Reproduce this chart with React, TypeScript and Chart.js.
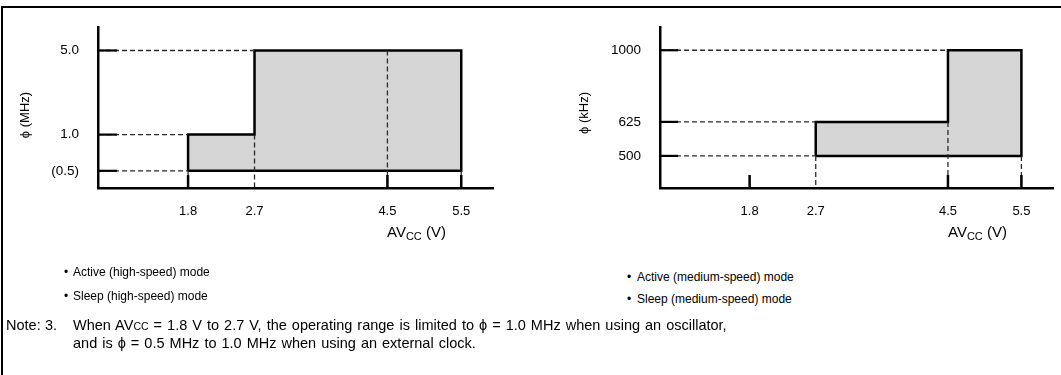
import React, { useEffect, useRef } from "react";
import { Chart, registerables } from "chart.js";

Chart.register(...registerables);

// ---- shared voltage axis ----
const voltageTicks = [1.8, 2.7, 4.5, 5.5];
const voltageMin = 0.58;
const voltageMax = 5.93;

// ---- high-speed chart (MHz) ----
const hsVoltage = [1.8, 2.7, 5.5];
const hsFreqMax = [1.0, 5.0];
const hsFreqMin = 0.5;
const hsFreqTicks = [0.5, 1.0, 5.0];
const hsFreqLabels = ["(0.5)", "1.0", "5.0"];
const hsTickMarks = [1.8, 4.5, 5.5];
const hsAxisMin = 0.36;
const hsAxisMax = 7.82;

// ---- medium-speed chart (kHz) ----
const msVoltage = [2.7, 4.5, 5.5];
const msFreqMax = [625, 1000];
const msFreqMin = 500;
const msFreqTicks = [500, 625, 1000];
const msFreqLabels = ["500", "625", "1000"];
const msTickMarks = [1.8, 4.5, 5.5];
const msAxisMin = 405;
const msAxisMax = 1164;

const FONT = '"Liberation Sans", Arial, Helvetica, sans-serif';

const innerTicks = {
  id: "innerTicks",
  afterDatasetsDraw(chart: any, _args: any, opts: any) {
    const { ctx, chartArea, scales } = chart;
    ctx.save();
    ctx.strokeStyle = "#000";
    ctx.lineCap = "butt";
    ctx.lineWidth = 2.2;
    for (const v of opts.yMarks) {
      const y = scales.y.getPixelForValue(v);
      ctx.beginPath();
      ctx.moveTo(chartArea.left, y);
      ctx.lineTo(chartArea.left + opts.yLen, y);
      ctx.stroke();
    }
    ctx.lineWidth = 2.5;
    for (const v of opts.xMarks) {
      const x = scales.x.getPixelForValue(v);
      ctx.beginPath();
      ctx.moveTo(x, chartArea.bottom);
      ctx.lineTo(x, chartArea.bottom - opts.xLen);
      ctx.stroke();
    }
    ctx.restore();
  },
};

type Cfg = {
  voltages: number[];
  maxes: number[];
  minF: number;
  yTicks: number[];
  yLabels: string[];
  yMin: number;
  yMax: number;
  yWidth: number;
  padRight: number;
  xMarks: number[];
  yLen: number;
};

function buildConfig(c: Cfg): any {
  const v = c.voltages;
  const poly: { x: number; y: number }[] = [{ x: v[0], y: c.minF }];
  c.maxes.forEach((m, i) => {
    poly.push({ x: v[i], y: m }, { x: v[i + 1], y: m });
  });
  poly.push({ x: v[v.length - 1], y: c.minF }, { x: v[0], y: c.minF });

  const guideStyle = {
    showLine: true,
    borderColor: "#2a2a2a",
    borderWidth: 1.3,
    borderDash: [5, 3],
    pointRadius: 0,
    fill: false,
    order: 1,
  };
  const guides: any[] = [];
  c.yTicks.forEach((f) => {
    const idx = c.maxes.findIndex((m) => m >= f);
    guides.push({ ...guideStyle, data: [{ x: voltageMin, y: f }, { x: v[idx], y: f }] });
  });
  voltageTicks.forEach((t) => {
    if (t < v[0] || t > v[v.length - 1]) return;
    let top: number;
    if (t === v[0] || t === v[v.length - 1]) {
      top = c.minF;
    } else {
      const j = v.indexOf(t);
      if (j > 0) top = Math.min(c.maxes[j - 1], c.maxes[j]);
      else {
        const i = v.findIndex((b, k) => k < v.length - 1 && t > b && t < v[k + 1]);
        top = c.maxes[i];
      }
    }
    guides.push({ ...guideStyle, data: [{ x: t, y: top }, { x: t, y: c.yMin }] });
  });

  return {
    type: "scatter",
    data: {
      datasets: [
        {
          data: poly,
          showLine: true,
          fill: "shape",
          backgroundColor: "#d5d5d5",
          borderColor: "#000",
          borderWidth: 2.5,
          borderJoinStyle: "miter",
          pointRadius: 0,
          tension: 0,
          order: 2,
        },
        ...guides,
      ],
    },
    options: {
      responsive: false,
      animation: false,
      events: [],
      layout: { padding: { top: 23, right: c.padRight, left: 0, bottom: 0 } },
      plugins: {
        legend: { display: false },
        tooltip: { enabled: false },
        innerTicks: { yMarks: c.yTicks, xMarks: c.xMarks, yLen: c.yLen, xLen: 13 },
      },
      scales: {
        x: {
          type: "linear",
          min: voltageMin,
          max: voltageMax,
          grid: { display: false, drawTicks: false },
          border: { display: true, color: "#000", width: 2.5 },
          afterBuildTicks: (s: any) => {
            s.ticks = voltageTicks.map((t) => ({ value: t }));
          },
          afterFit: (s: any) => {
            s.height = 62;
          },
          ticks: {
            autoSkip: false,
            maxRotation: 0,
            padding: 16,
            color: "#000",
            font: { family: FONT, size: 13 },
            callback: (val: any) => Number(val).toFixed(1),
          },
        },
        y: {
          type: "logarithmic",
          min: c.yMin,
          max: c.yMax,
          grid: { display: false, drawTicks: false },
          border: { display: true, color: "#000", width: 2.5 },
          afterBuildTicks: (s: any) => {
            s.ticks = c.yTicks.map((t) => ({ value: t }));
          },
          afterFit: (s: any) => {
            s.width = c.yWidth;
          },
          ticks: {
            autoSkip: false,
            padding: 19,
            color: "#000",
            font: { family: FONT, size: 13.5 },
            callback: (_val: any, i: number) => c.yLabels[i],
          },
        },
      },
    },
    plugins: [innerTicks],
  };
}

function RangeChart(props: { cfg: Cfg; left: number; width: number }) {
  const ref = useRef<HTMLCanvasElement | null>(null);
  useEffect(() => {
    if (!ref.current) return;
    const chart = new Chart(ref.current, buildConfig(props.cfg));
    return () => chart.destroy();
  }, []);
  return (
    <canvas
      ref={ref}
      width={props.width}
      height={250}
      style={{ position: "absolute", left: props.left, top: 0, width: props.width, height: 250 }}
    />
  );
}

const abs = (left: number, top: number, extra: React.CSSProperties = {}): React.CSSProperties => ({
  position: "absolute",
  left,
  top,
  whiteSpace: "nowrap",
  lineHeight: "16px",
  ...extra,
});

export default function App() {
  const hsCfg: Cfg = {
    voltages: hsVoltage,
    maxes: hsFreqMax,
    minF: hsFreqMin,
    yTicks: hsFreqTicks,
    yLabels: hsFreqLabels,
    yMin: hsAxisMin,
    yMax: hsAxisMax,
    yWidth: 98,
    padRight: 27,
    xMarks: hsTickMarks,
    yLen: 19,
  };
  const msCfg: Cfg = {
    voltages: msVoltage,
    maxes: msFreqMax,
    minF: msFreqMin,
    yTicks: msFreqTicks,
    yLabels: msFreqLabels,
    yMin: msAxisMin,
    yMax: msAxisMax,
    yWidth: 100,
    padRight: 8,
    xMarks: msTickMarks,
    yLen: 18,
  };
  const sub: React.CSSProperties = { fontSize: "11px", position: "relative", top: "3px" };
  const note: React.CSSProperties = { fontSize: "14.5px", wordSpacing: "1px" };
  return (
    <div
      style={{
        position: "absolute",
        left: 0,
        top: 0,
        width: 1061,
        height: 375,
        overflow: "hidden",
        background: "#fff",
        color: "#000",
        fontFamily: FONT,
        fontSize: "12px",
      }}
    >
      <div
        style={{
          position: "absolute",
          left: 1,
          top: 6,
          width: 1100,
          height: 400,
          borderTop: "2px solid #000",
          borderLeft: "2px solid #000",
        }}
      />
      <RangeChart cfg={hsCfg} left={0} width={520} />
      <RangeChart cfg={msCfg} left={560} width={501} />

      {/* y-axis titles */}
      <div style={abs(-15, 107, { width: 80, textAlign: "center", fontSize: "13px", transform: "rotate(-90deg)" })}>
        ϕ (MHz)
      </div>
      <div style={abs(544, 105, { width: 80, textAlign: "center", fontSize: "13px", transform: "rotate(-90deg)" })}>
        ϕ (kHz)
      </div>

      {/* x-axis titles */}
      <div style={abs(387, 224, { fontSize: "15px" })}>
        AV<span style={sub}>CC</span> (V)
      </div>
      <div style={abs(948, 224, { fontSize: "15px" })}>
        AV<span style={sub}>CC</span> (V)
      </div>

      {/* mode lists */}
      <div style={abs(64, 264)}>•</div>
      <div style={abs(73, 264)}>Active (high-speed) mode</div>
      <div style={abs(64, 288)}>•</div>
      <div style={abs(73, 288)}>Sleep (high-speed) mode</div>
      <div style={abs(627, 269)}>•</div>
      <div style={abs(637, 269)}>Active (medium-speed) mode</div>
      <div style={abs(627, 291)}>•</div>
      <div style={abs(637, 291)}>Sleep (medium-speed) mode</div>

      {/* note */}
      <div style={abs(6, 317, note)}>Note:</div>
      <div style={abs(45, 317, note)}>3.</div>
      <div style={abs(73, 317, note)}>
        When AV<span style={{ fontSize: "10.5px" }}>CC</span> = 1.8 V to 2.7 V, the operating range is limited to ϕ = 1.0 MHz
        when using an oscillator,
      </div>
      <div style={abs(73, 335, note)}>and is ϕ = 0.5 MHz to 1.0 MHz when using an external clock.</div>
    </div>
  );
}
